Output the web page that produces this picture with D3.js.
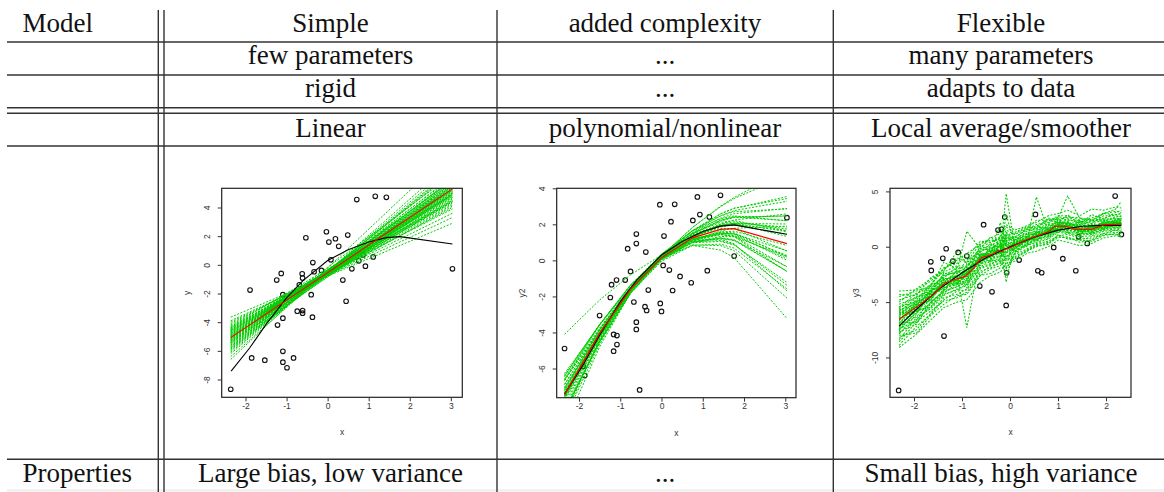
<!DOCTYPE html>
<html>
<head>
<meta charset="utf-8">
<script src="https://cdn.jsdelivr.net/npm/d3@7"></script>
<style>
  body { margin: 0; background: #fff; }
  svg { display: block; }
  .cell { font-family: "Liberation Serif", "Times New Roman", serif; font-size: 27px; fill: #111; }
  .rplot text { font-family: "Liberation Sans", Arial, sans-serif; font-size: 8.5px; fill: #333; }
</style>
</head>
<body>
<svg width="1164" height="492"></svg>
<script>
// ---- table text ----
const headerRows = [
  ["Model", "Simple", "added complexity", "Flexible"],
  ["", "few parameters", "...", "many parameters"],
  ["", "rigid", "...", "adapts to data"],
  ["", "Linear", "polynomial/nonlinear", "Local average/smoother"]
];
const footerRow = ["Properties", "Large bias, low variance", "...", "Small bias, high variance"];

// ---- panel 1: linear fits ----
const pts1 = [[-2.36,-8.68],[-1.89,-1.76],[-1.85,-6.49],[-1.53,-6.65],[-1.24,-1.06],[-1.22,-4.20],[-1.13,-0.60],
  [-1.09,-2.08],[-1.09,-3.72],[-1.09,-6.03],[-1.09,-6.79],[-0.99,-7.18],[-0.83,-6.49],[-0.74,-3.23],[-0.69,-1.39],
  [-0.62,-0.62],[-0.61,-0.92],[-0.61,-3.19],[-0.61,-3.37],[-0.53,1.89],[-0.40,-2.08],[-0.37,-3.65],[-0.36,0.16],
  [-0.33,-0.48],[-0.15,-0.39],[-0.03,2.31],[0.03,1.59],[0.08,0.35],[0.19,1.82],[0.27,1.29],[0.37,-1.06],[0.45,-2.54],
  [0.49,2.08],[0.59,-0.28],[0.71,4.55],[0.76,0.28],[0.86,0.69],[0.92,-0.09],[1.11,0.55],[1.16,4.78],[1.43,4.71],[3.04,-0.28]];
const fit1X = [-2.36, 3.04];
// each bootstrap line: y at the left end, y at the right end
const fits1 = [[-5.1,5.3],[-4.8,4.9],[-5.4,5.6],[-4.6,4.6],[-5.6,6.0],[-4.9,5.1],[-5.3,5.4],[-4.4,4.3],[-5.8,6.2],
  [-5.0,5.0],[-4.7,5.2],[-5.2,5.8],[-4.5,4.8],[-5.5,5.5],[-4.3,4.0],[-5.9,6.5],[-4.9,4.7],[-5.2,5.1],[-5.7,5.7],
  [-4.6,5.0],[-5.0,5.6],[-4.2,4.4],[-5.4,6.1],[-4.8,4.5],[-5.1,4.9],[-6.0,6.6],[-4.4,4.7],[-5.3,5.9],[-4.7,4.4],
  [-5.6,5.3],[-4.1,3.9],[-6.2,6.9],[-5.0,5.4],[-4.5,4.2],[-5.8,5.8],[-4.0,3.6],[-6.4,7.2],[-3.65,2.9],[-6.6,8.0],
  [-4.6,4.1],[-3.9,3.3],[-5.4,5.0],[-4.9,5.5],[-5.2,6.3],[-4.3,4.9],[-5.0,5.2],[-5.3,5.2],[-4.8,5.3],[-5.5,5.9],
  [-4.6,4.4],[-5.7,6.4],[-4.9,4.9],[-5.2,5.5],[-4.4,4.5],[-5.9,6.0],[-4.7,4.8],[-5.4,5.4],[-5.1,5.7],[-4.5,4.5],
  [-6.1,6.7]];
const mean1 = [-5.08, 5.30];

// true curve shared by panels 1 and 2
const truthX = [-2.35,-1.9,-1.5,-1.0,-0.6,0,0.5,1.0,1.43,1.76,3.04];
const truthY = [-7.42,-5.8,-4.15,-2.3,-1.1,0.3,1.05,1.6,1.9,1.97,1.45];

// ---- panel 2: quadratic fits ----
const pts2 = [[-2.35,-4.89],[-1.90,-5.87],[-1.86,-6.39],[-1.50,-3.06],[-1.24,-2.06],[-1.21,-1.35],[-1.16,-4.11],
  [-1.08,-4.17],[-1.08,-4.67],[-1.16,-5.04],[-1.09,-1.09],[-0.88,-1.09],[-0.82,0.65],[-0.75,-0.61],[-0.67,-2.31],
  [-0.61,0.93],[-0.61,1.46],[-0.61,-3.43],[-0.61,-3.83],[-0.53,-7.19],[-0.38,0.46],[-0.40,-2.57],[-0.36,-2.78],
  [-0.32,-1.65],[-0.04,3.09],[-0.03,-2.39],[0.00,-2.83],[0.06,1.35],[0.04,-0.28],[0.19,-0.54],[0.23,2.15],
  [0.27,-1.67],[0.32,3.11],[0.45,-0.89],[0.72,-1.24],[0.76,2.22],[0.87,3.52],[0.93,2.54],[1.11,-0.57],[1.16,2.41],
  [1.43,3.61],[1.76,0.24],[3.04,2.37]];
const knots2 = [-2.35,-1.5,-0.75,0,0.75,1.43,1.76,3.04];
const fits2 = [
  [-7.24,-3.97,-1.56,0.20,1.37,1.94,2.06,1.59],
  [-7.66,-4.14,-1.64,0.10,1.13,1.50,1.47,0.27],
  [-7.59,-4.10,-1.58,0.25,1.43,1.96,2.04,1.33],
  [-7.32,-4.00,-1.63,0.05,1.08,1.48,1.48,0.53],
  [-7.37,-4.13,-1.69,0.15,1.46,2.22,2.42,2.46],
  [-7.53,-3.98,-1.51,0.15,1.04,1.23,1.10,-0.60],
  [-6.47,-3.56,-1.37,0.30,1.48,2.18,2.38,2.47],
  [-8.43,-4.54,-1.83,0.00,1.02,1.26,1.15,-0.61],
  [-7.71,-4.27,-1.71,0.20,1.52,2.23,2.41,2.20],
  [-7.19,-3.84,-1.49,0.10,0.98,1.21,1.12,-0.34],
  [-6.38,-3.55,-1.36,0.35,1.64,2.47,2.76,3.28],
  [-6.63,-3.88,-1.63,0.25,1.82,3.01,3.49,5.02],
  [-8.68,-4.39,-1.57,0.15,0.83,0.57,0.15,-3.22],
  [-4.10,-2.20,-0.80,0.30,1.12,1.63,1.78,1.90],
  [-6.57,-3.58,-1.37,0.25,1.33,1.88,1.99,1.65],
  [-8.34,-4.53,-1.83,0.05,1.17,1.56,1.53,0.21],
  [-8.79,-4.65,-1.79,0.15,1.22,1.45,1.32,-0.62],
  [-6.39,-3.56,-1.45,0.15,1.26,1.89,2.05,2.02],
  [-7.44,-4.04,-1.52,0.35,1.63,2.31,2.47,2.20],
  [-8.40,-4.48,-1.80,-0.05,0.83,0.90,0.68,-1.58],
  [-7.51,-4.18,-1.67,0.25,1.63,2.46,2.70,2.86],
  [-8.46,-4.41,-1.69,0.05,0.86,0.82,0.54,-2.09],
  [-8.30,-4.45,-1.72,0.20,1.35,1.78,1.76,0.52],
  [-6.28,-3.58,-1.50,0.10,1.27,2.01,2.24,2.58],
  [-9.23,-4.80,-1.81,0.15,1.12,1.18,0.92,-1.69],
  [-6.67,-3.75,-1.49,0.30,1.66,2.57,2.88,3.54],
  [-7.39,-4.19,-1.73,0.20,1.64,2.58,2.90,3.43],
  [-7.03,-4.07,-1.70,0.25,1.83,2.97,3.43,4.71],
  [-7.69,-4.02,-1.49,0.15,0.98,1.05,0.86,-1.22],
  [-7.12,-3.89,-1.52,0.20,1.33,1.87,1.97,1.44],
  [-7.82,-4.25,-1.65,0.25,1.50,2.11,2.21,1.64],
  [-7.08,-3.85,-1.55,0.05,1.00,1.33,1.31,0.22],
  [-6.90,-3.83,-1.54,0.15,1.31,1.93,2.07,1.85],
  [-8.00,-4.28,-1.66,0.15,1.19,1.52,1.45,0.01],
  [-7.36,-4.04,-1.60,0.20,1.41,2.01,2.14,1.74],
  [-7.54,-4.06,-1.60,0.10,1.09,1.43,1.38,0.12],
  [-8.20,-4.28,-1.60,0.15,1.03,1.10,0.88,-1.38],
  [-6.87,-3.84,-1.53,0.25,1.54,2.34,2.59,2.88],
  [-8.45,-4.52,-1.77,0.10,1.16,1.43,1.34,-0.36],
  [-6.65,-3.59,-1.37,0.20,1.18,1.58,1.62,0.83]
];
const mean2 = [-7.45,-4.05,-1.6,0.15,1.25,1.72,1.76,0.93];

// ---- panel 3: local smoothers ----
const pts3 = [[-2.32,-12.98],[-1.65,-1.36],[-1.64,-2.14],[-1.40,-1.05],[-1.33,-0.18],[-1.375,-8.07],[-1.19,-1.30],
  [-1.08,-0.51],[-0.90,-0.84],[-0.55,1.99],[-0.63,-3.55],[-0.375,-4.07],[-0.25,1.51],[-0.18,1.57],[-0.11,2.68],
  [-0.07,-2.35],[-0.08,-5.30],[0.19,-1.20],[0.53,2.92],[0.58,-2.17],[0.66,-2.35],[0.91,-0.06],[1.10,-1.08],
  [1.37,-2.17],[1.43,0.90],[1.61,0.30],[2.19,4.58],[2.32,1.11]];
const knots3 = [-2.31,-1.95,-1.65,-1.38,-1.1,-0.9,-0.62,-0.4,-0.2,-0.08,0.1,0.35,0.55,0.8,1.0,1.2,1.45,1.7,1.95,2.2,2.32];
const fits3 = [
  [-5.2,-4.6,-3.8,-2.5,-2.0,-1.8,-0.3,-0.2,0.5,1.2,0.6,1.4,1.6,2.1,2.6,2.4,2.3,2.2,2.6,2.9,3.0],
  [-7.8,-6.6,-5.4,-4.3,-3.9,-3.5,-1.9,-1.5,-1.3,-2.0,-0.6,0.1,0.4,0.7,1.3,1.2,0.9,1.0,1.4,1.5,1.4],
  [-6.0,-5.0,-3.5,-2.8,-1.8,-2.2,-0.5,0.3,-0.6,1.0,0.4,1.2,1.8,1.6,2.5,2.0,1.9,2.4,2.3,2.6,2.5],
  [-7.2,-6.3,-5.0,-4.0,-3.6,-3.0,-1.6,-1.2,0.2,-0.9,-0.4,0.3,0.6,1.0,1.5,1.5,1.2,1.1,1.6,1.7,1.8],
  [-4.0,-3.9,-3.1,-2.0,-1.2,-0.6,0.2,0.8,1.2,2.0,1.5,1.9,2.2,2.8,3.0,3.3,2.8,3.4,3.3,3.6,3.5],
  [-9.1,-7.9,-6.6,-5.5,-5.0,-4.8,-3.2,-2.6,-2.3,-1.5,-1.3,-0.6,-0.4,0.0,0.6,0.4,0.1,0.3,0.8,1.0,0.9],
  [-6.4,-5.8,-4.7,-3.0,-2.6,-7.3,-0.9,-0.5,-0.1,0.3,0.3,0.9,1.3,1.6,2.0,2.2,1.8,1.6,2.1,2.2,2.2],
  [-6.9,-5.2,-4.2,-3.8,-3.2,-2.4,-1.4,-0.9,-0.5,4.8,0.0,0.5,0.9,1.2,1.6,1.9,1.4,1.8,1.8,1.9,2.0],
  [-5.6,-4.5,-4.0,-2.6,-2.3,-1.9,-0.4,-0.1,0.1,-3.2,0.6,1.0,1.5,1.8,2.3,2.0,2.0,1.7,2.2,2.3,2.4],
  [-8.2,-7.5,-6.0,-4.6,-4.3,-3.8,-2.2,-1.9,-1.4,-0.8,-0.7,-0.2,0.3,0.5,1.0,1.1,0.8,0.7,1.2,1.3,1.2],
  [-5.8,-4.8,-3.4,-2.2,-0.4,-1.5,-0.2,0.1,0.6,0.5,0.9,1.5,1.9,2.2,2.7,2.6,2.3,2.1,2.8,2.8,2.7],
  [-7.5,-5.9,-5.2,-4.2,-3.3,-3.3,-1.5,-1.1,-0.9,-0.5,-0.2,0.5,0.7,1.1,1.6,1.5,1.3,1.4,1.7,1.9,1.9],
  [-6.3,-5.3,-4.4,-3.3,-3.0,-2.3,-0.8,-0.6,2.2,0.0,0.3,0.7,1.2,1.5,2.1,2.3,1.6,1.5,2.0,2.1,2.1],
  [-4.8,-4.3,-3.4,-1.9,-1.5,-1.0,0.5,0.4,0.9,1.8,1.2,1.7,2.4,2.4,2.6,4.6,2.6,2.4,3.0,3.2,3.1],
  [-8.6,-6.8,-5.8,-4.9,-4.6,-4.1,-2.6,-2.0,-1.7,-1.2,-0.9,-0.3,0.2,0.4,0.9,0.8,0.6,0.5,1.0,1.2,0.9],
  [-6.6,-5.6,-4.5,-3.5,-2.9,-2.7,-1.0,-0.7,-0.4,-0.2,0.1,0.6,1.0,1.4,1.9,1.8,1.6,1.6,1.9,2.0,2.0],
  [-7.0,-5.1,-4.9,-3.1,-3.5,-2.4,-1.3,-0.3,-0.7,0.6,-0.2,0.9,0.8,1.7,1.6,2.0,1.3,1.9,1.7,2.3,2.2],
  [-5.4,-5.0,-3.9,-3.6,-2.1,-2.8,-0.6,-1.1,0.3,-0.5,0.5,0.4,1.3,1.2,2.2,1.6,1.9,1.3,2.3,1.9,2.3],
  [-7.9,-6.1,-4.1,-4.0,-2.5,-3.1,-0.9,-1.4,-0.2,-1.2,0.2,0.0,1.1,0.9,1.8,1.4,1.7,1.2,2.0,1.7,1.6],
  [-4.5,-4.0,-3.6,-1.4,-2.0,1.4,-0.2,0.9,0.0,1.3,0.8,1.6,1.6,2.5,2.2,2.9,2.0,2.9,2.5,3.1,3.3],
  [-6.8,-6.9,-5.1,-3.9,-3.2,-2.0,-1.7,-0.4,-0.9,0.2,-0.3,1.0,0.5,1.6,1.3,2.1,1.1,1.9,1.5,2.2,2.1],
  [-6.1,-5.5,-3.9,-2.9,-2.7,-2.9,-0.7,-0.9,-0.3,-0.6,0.3,0.7,0.8,1.4,2.0,1.6,1.5,1.7,2.0,2.0,2.1],
  [-7.4,-6.7,-4.5,-3.7,-3.0,-2.3,-1.2,-0.7,-0.6,0.5,0.0,0.4,1.2,1.2,1.7,2.0,1.4,1.5,1.8,2.2,2.0],
  [-5.0,-3.8,-2.9,-2.3,-1.7,-1.8,0.0,0.4,0.8,1.0,1.3,1.8,1.7,2.6,2.4,2.7,2.6,2.3,3.0,2.9,3.0],
  [-8.0,-7.8,-6.2,-5.2,-4.4,-4.3,-2.6,-2.4,-1.9,-1.9,-1.0,-0.4,0.1,0.2,1.1,0.7,0.6,0.9,1.2,1.5,1.3],
  [-6.2,-4.9,-4.6,-2.8,-3.1,-2.0,-1.5,0.2,-0.2,1.1,0.6,0.5,4.5,1.4,2.4,1.8,2.2,1.5,2.4,2.1,2.6],
  [-7.6,-5.7,-5.5,-3.9,-2.4,-3.7,-0.6,-1.3,-1.0,0.4,-0.5,0.8,0.6,1.5,1.3,2.2,1.0,2.1,1.6,2.5,2.4],
  [-5.7,-5.2,-4.0,-3.3,-3.1,-1.6,-1.1,-0.2,0.4,-1.8,0.9,0.3,1.4,1.0,2.1,1.5,2.4,1.8,2.1,2.4,2.6],
  [-6.5,-5.4,-4.8,-3.0,-2.7,-2.1,-1.2,-0.4,0.0,0.9,0.4,0.9,1.3,1.7,1.9,2.2,1.7,1.8,2.2,2.4,2.3],
  [-7.3,-6.0,-4.3,-3.7,-3.4,-3.0,-0.8,-1.0,-0.8,-0.9,-0.1,0.6,0.9,1.2,1.8,1.7,1.4,1.3,1.8,1.9,1.8],
  [-5.9,-4.6,-4.2,-2.4,-2.4,-1.2,-0.5,-0.9,1.0,0.1,0.6,1.1,1.2,1.9,2.0,2.5,2.1,2.0,2.5,2.5,2.6],
  [-8.4,-6.4,-5.6,-4.4,-3.8,-3.4,-2.0,-1.6,-1.1,-2.6,-0.5,0.2,0.5,0.8,1.4,1.3,1.0,1.2,1.5,1.6,1.5],
  [-6.1,-5.9,-4.1,-3.2,-2.2,-2.5,-1.0,-0.1,-0.5,2.9,0.2,0.8,1.1,1.3,2.0,1.9,1.8,1.9,2.1,2.1,2.2],
  [-7.1,-5.5,-4.7,-3.4,-3.3,-2.6,-1.3,-0.8,-0.3,-0.6,0.0,0.5,0.9,1.3,1.7,1.8,1.5,1.4,1.8,2.0,2.0],
  [-5.5,-4.2,-3.7,-2.7,-2.2,-2.6,0.1,-0.4,0.4,0.7,0.8,1.2,1.4,2.0,2.2,2.1,2.2,2.5,2.4,2.7,2.8],
  [-7.7,-7.0,-5.0,-4.1,-3.6,-3.2,-1.8,-1.3,-1.2,0.1,-0.4,0.2,0.7,0.9,1.5,1.3,1.2,1.2,1.6,1.8,1.7],
  [-6.7,-5.0,-4.4,-3.2,-2.8,-2.0,-1.1,-0.6,-0.2,-0.3,0.2,0.8,1.0,1.6,1.8,1.9,1.7,1.7,2.0,2.1,2.1],
  [-6.0,-5.3,-4.0,-2.9,-3.3,-2.4,-0.9,-0.3,-0.5,0.8,0.1,0.5,1.1,1.4,1.9,1.7,1.5,1.8,2.1,2.2,2.4],
  [-8.9,-7.2,-6.1,-4.8,-4.0,-3.9,-2.4,-1.7,-1.5,-1.0,-1.1,-0.4,0.0,0.3,0.8,0.9,0.4,0.6,1.1,1.1,1.0],
  [-4.3,-4.4,-2.8,-2.1,-1.0,-1.4,0.3,0.6,0.6,1.5,1.1,1.6,2.0,2.3,2.8,2.8,2.4,2.6,3.0,3.4,4.1]
];
const mean3X = [-2.31,-1.9,-1.6,-1.36,-1.15,-0.94,-0.75,-0.6,-0.45,-0.32,-0.25,-0.18,-0.11,0,0.17,0.38,0.58,0.8,0.93,1.14,1.35,1.69,1.97,2.32];
const mean3Y = [-6.55,-5.3,-4.3,-3.3,-2.95,-2.7,-1.9,-1.0,-0.8,-0.6,-0.3,-0.45,-0.25,-0.1,0.3,0.7,1.0,1.35,1.85,1.87,1.57,1.57,1.98,2.05];
const truth3X = [-2.31,-2.0,-1.5,-1.0,-0.5,0,0.5,1.0,1.5,2.0,2.32];
const truth3Y = [-7.17,-5.85,-3.9,-2.35,-1.0,0.0,0.85,1.5,1.85,1.95,1.92];

// ---- drawing ----
const svg = d3.select("svg");
const zip = (xs, ys) => xs.map((x, i) => [x, ys[i]]);

svg.append("rect").attr("width", 1164).attr("height", 492).attr("fill", "#fff");
svg.append("rect").attr("x", 7).attr("y", 489).attr("width", 1157).attr("height", 3).attr("fill", "#f2f2f2");

// table rules
const rules = svg.append("g").attr("stroke", "#333").attr("stroke-width", 1.4);
[42, 75, 107.7, 113.3, 146, 459.3].forEach(y =>
  rules.append("line").attr("x1", 7).attr("x2", 1164).attr("y1", y).attr("y2", y));
[158.3, 164, 497, 833.3].forEach(x =>
  rules.append("line").attr("x1", x).attr("x2", x).attr("y1", 10).attr("y2", 492));

const colX = [22.5, 330.5, 665, 1001];
const rowBase = [31.7, 64, 97, 136.6];
function writeRow(cells, y) {
  cells.forEach((t, i) => {
    if (!t) return;
    svg.append("text").attr("class", "cell")
      .attr("x", colX[i]).attr("y", y)
      .attr("text-anchor", i === 0 ? "start" : "middle")
      .text(t);
  });
}
headerRows.forEach((r, i) => writeRow(r, rowBase[i]));
writeRow(footerRow, 481.6);

let clipCount = 0;
function drawPanel(p) {
  const g = svg.append("g").attr("class", "rplot");
  const x = d3.scaleLinear().domain(p.xDomain).range([p.left, p.right]);
  const y = d3.scaleLinear().domain(p.yDomain).range([p.bottom, p.top]);
  const id = "clip" + (clipCount++);
  g.append("clipPath").attr("id", id).append("rect")
    .attr("x", p.left).attr("y", p.top)
    .attr("width", p.right - p.left).attr("height", p.bottom - p.top);

  g.append("g").selectAll("circle").data(p.points).join("circle")
    .attr("cx", d => x(d[0])).attr("cy", d => y(d[1])).attr("r", 2.3)
    .attr("fill", "none").attr("stroke", "#111").attr("stroke-width", 1.1);

  const line = d3.line().x(d => x(d[0])).y(d => y(d[1]));
  const curves = g.append("g").attr("clip-path", `url(#${id})`).attr("fill", "none");
  curves.selectAll("path.fit").data(p.fits).join("path").attr("class", "fit")
    .attr("d", line).attr("stroke", "#00cd00").attr("stroke-width", p.greenWidth)
    .attr("stroke-dasharray", "2,1.5");
  curves.append("path").attr("d", line(p.truth)).attr("stroke", "#000").attr("stroke-width", 1.1);
  curves.append("path").attr("d", line(p.mean)).attr("stroke", "#ff0000").attr("stroke-width", 1.1);

  g.append("rect").attr("x", p.left).attr("y", p.top)
    .attr("width", p.right - p.left).attr("height", p.bottom - p.top)
    .attr("fill", "none").attr("stroke", "#222").attr("stroke-width", 1.2);

  const xa = g.append("g").attr("transform", `translate(0,${p.bottom})`)
    .call(d3.axisBottom(x).tickValues(p.xTicks).tickSize(4).tickPadding(1.5).tickFormat(d => String(d)));
  xa.select(".domain").remove();
  xa.selectAll("line").attr("stroke", "#333");

  const ya = g.append("g").attr("transform", `translate(${p.left},0)`)
    .call(d3.axisLeft(y).tickValues(p.yTicks).tickSize(4).tickFormat(d => String(d)));
  ya.select(".domain").remove();
  ya.selectAll("line").attr("stroke", "#333");
  ya.selectAll("text")
    .attr("transform", "rotate(-90)")
    .attr("x", 0).attr("y", -12).attr("dy", 0)
    .attr("text-anchor", "middle");

  g.append("text").attr("x", (p.left + p.right) / 2).attr("y", p.bottom + 38)
    .attr("text-anchor", "middle").style("font-size", "8.5px").text("x");
  g.append("text")
    .attr("transform", `translate(${p.left - 31.5},${(p.top + p.bottom) / 2}) rotate(-90)`)
    .attr("text-anchor", "middle").style("font-size", "8.5px").text(p.yLabel);
}

drawPanel({
  left: 221.7, right: 462.3, top: 188.3, bottom: 397.3,
  xDomain: [-2.58, 3.28], yDomain: [-9.24, 5.34],
  xTicks: [-2, -1, 0, 1, 2, 3], yTicks: [-8, -6, -4, -2, 0, 2, 4], yLabel: "y",
  points: pts1,
  fits: fits1.map(f => zip(fit1X, f)),
  truth: zip(truthX, truthY),
  mean: zip(fit1X, mean1),
  greenWidth: 1.0
});

drawPanel({
  left: 556.7, right: 796, top: 188.3, bottom: 397.7,
  xDomain: [-2.54, 3.26], yDomain: [-7.62, 4.0],
  xTicks: [-2, -1, 0, 1, 2, 3], yTicks: [-6, -4, -2, 0, 2, 4], yLabel: "y2",
  points: pts2,
  fits: fits2.map(f => zip(knots2, f)),
  truth: zip(truthX, truthY),
  mean: zip(knots2, mean2),
  greenWidth: 1.0
});

drawPanel({
  left: 890, right: 1131, top: 188.3, bottom: 397.3,
  xDomain: [-2.5, 2.52], yDomain: [-13.6, 5.28],
  xTicks: [-2, -1, 0, 1, 2], yTicks: [-10, -5, 0, 5], yLabel: "y3",
  points: pts3,
  fits: fits3.map(f => zip(knots3, f)),
  truth: zip(truth3X, truth3Y),
  mean: zip(mean3X, mean3Y),
  greenWidth: 1.05
});
</script>
</body>
</html>
